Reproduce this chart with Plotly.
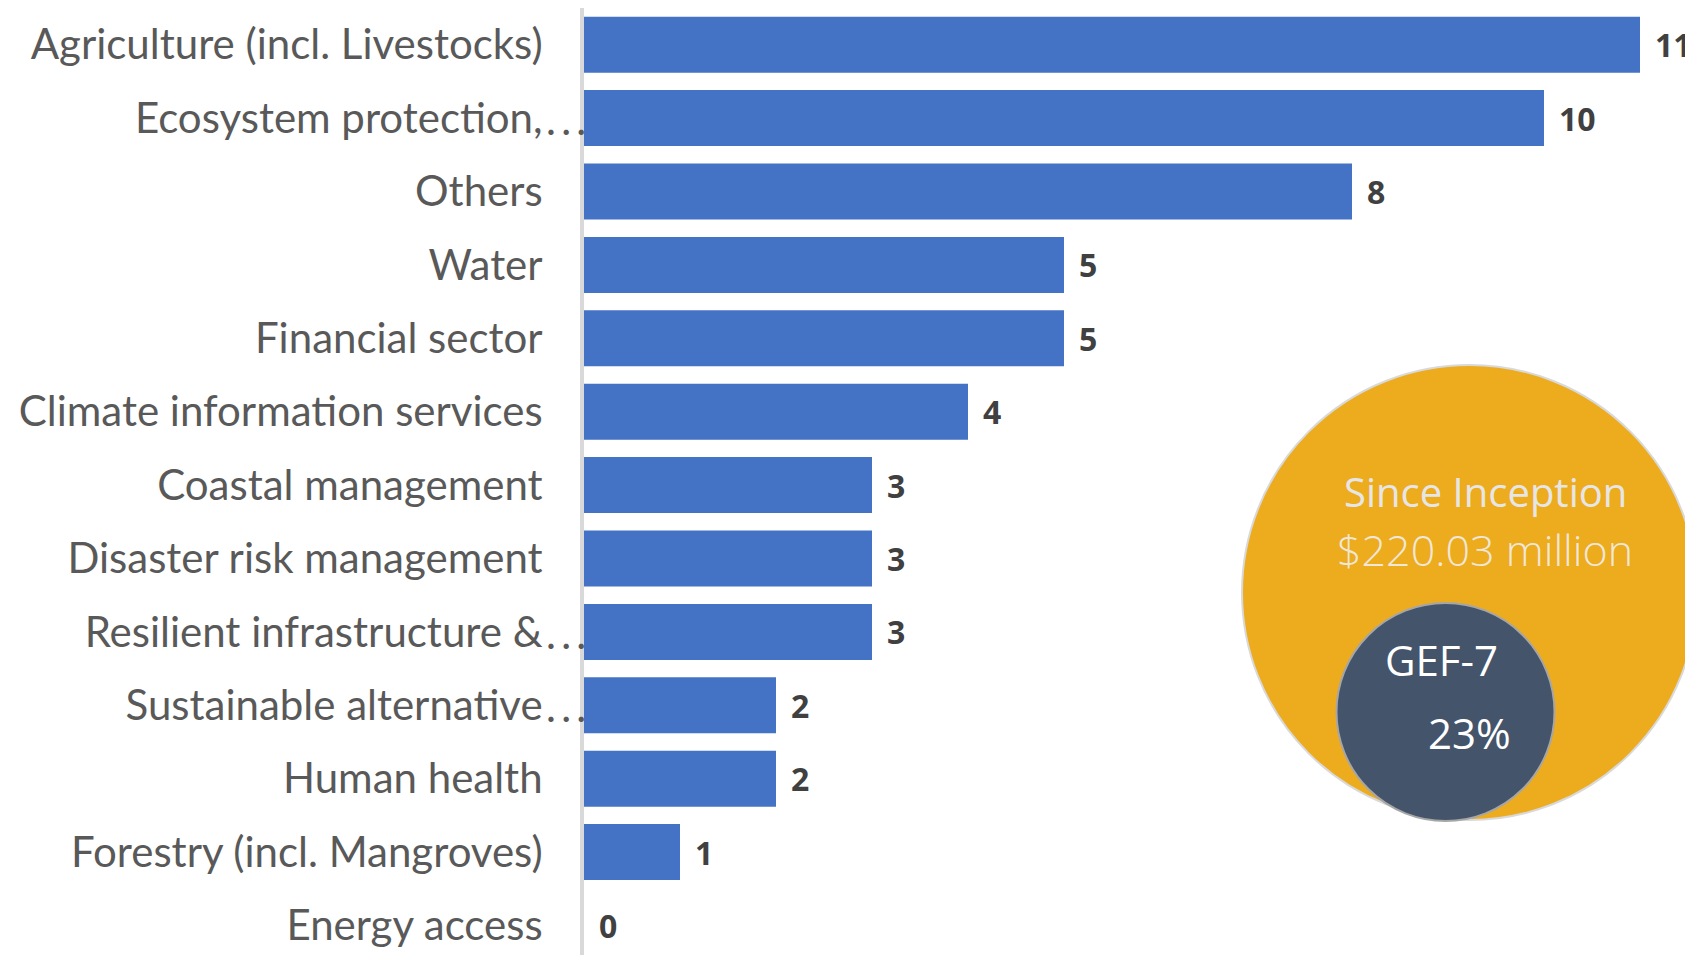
import plotly.graph_objects as go

# ---- data ----
categories = [
    "Agriculture (incl. Livestocks)",
    "Ecosystem protection,",
    "Others",
    "Water",
    "Financial sector",
    "Climate information services",
    "Coastal management",
    "Disaster risk management",
    "Resilient infrastructure &",
    "Sustainable alternative",
    "Human health",
    "Forestry (incl. Mangroves)",
    "Energy access",
]
values = [11, 10, 8, 5, 5, 4, 3, 3, 3, 2, 2, 1, 0]
truncated = [False, True, False, False, False, False, False, False, True, True, False, False, False]

total_title = "Since Inception"
total_amount = "$220.03 million"
gef_label = "GEF-7"
gef_share = "23%"

# ---- layout geometry (pixels) ----
OFF = 8  # default page body margin
W, H = 1693 - OFF, 955 - OFF
L, T = 584 - OFF, 0
PW, PH = W - L, H - T


def px(x):
    return (x - OFF - L) / PW


def py(y):
    return 1 - (y - OFF - T) / PH


fig = go.Figure(
    go.Bar(
        x=values,
        y=categories,
        orientation="h",
        marker=dict(color="#4472C4", line=dict(width=0)),
        width=0.763,
        hoverinfo="skip",
    )
)

annotations = []
# value labels
for c, v in zip(categories, values):
    annotations.append(dict(
        x=v, y=c, xref="x", yref="y", text=str(v), showarrow=False,
        xanchor="left", yanchor="middle", xshift=13,
        font=dict(family="Open Sans", size=32, color="#404040", weight="bold"),
    ))
# ellipsis for truncated category labels
for c, tr in zip(categories, truncated):
    if tr:
        annotations.append(dict(
            x=0, y=c, xref="paper", yref="y", text=".\u2009.\u2009.", showarrow=False,
            xanchor="right", yanchor="middle", xshift=4, yshift=-1,
            font=dict(family="Lato", size=42, color="#595959"),
        ))

# circle texts
circle_text = [
    (total_title, 1485, 491, "#E7E6E6", 400, 40),
    (total_amount, 1485, 549, "#EFE7D8", 300, 43),
    (gef_label, 1441, 659, "#FFFFFF", 400, 42),
    (gef_share, 1469, 732, "#FFFFFF", 400, 42),
]
for txt, cx, cy, col, wt, sz in circle_text:
    annotations.append(dict(
        x=px(cx), y=py(cy), xref="paper", yref="paper", text=txt, showarrow=False,
        xanchor="center", yanchor="middle",
        font=dict(family="Open Sans", size=sz, color=col, weight=wt),
    ))

shapes = []
for cx, cy, r, fill, line in [
    (1469.5, 592.5, 227.5, "#EDAB1E", "#D9D9D9"),
    (1445.5, 712, 109, "#44546A", "#A6A6A6"),
]:
    shapes.append(dict(
        type="circle", xref="paper", yref="paper",
        xsizemode="pixel", ysizemode="pixel",
        xanchor=px(cx), yanchor=py(cy),
        x0=-r, x1=r, y0=-r, y1=r,
        fillcolor=fill, line=dict(color=line, width=2), layer="above",
    ))

fig.update_layout(
    width=W, height=H,
    margin=dict(l=L, r=0, t=T, b=0, pad=0),
    paper_bgcolor="white", plot_bgcolor="white",
    showlegend=False,
    annotations=annotations,
    shapes=shapes,
    xaxis=dict(visible=False, range=[0, PW / 96.0], fixedrange=True),
    yaxis=dict(
        categoryorder="array", categoryarray=categories,
        range=[-0.5 + PH / 73.4, -0.5],
        showline=True, linecolor="#D9D9D9", linewidth=4,
        showgrid=False, zeroline=False,
        ticks="outside", ticklen=29, tickcolor="rgba(0,0,0,0)",
        tickfont=dict(family="Lato", size=42, color="#595959"),
    ),
)

fig.write_html("out.html")
